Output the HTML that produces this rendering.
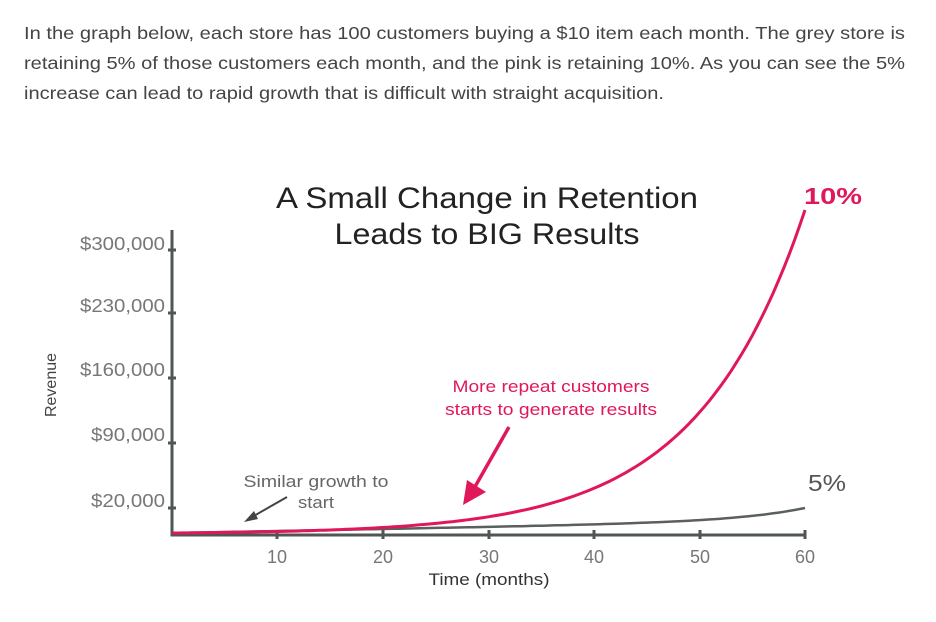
<!DOCTYPE html>
<html><head><meta charset="utf-8">
<style>html,body{margin:0;padding:0;background:#fff}svg{display:block}</style></head>
<body>
<svg id="s" width="936" height="622" viewBox="0 0 936 622" xmlns="http://www.w3.org/2000/svg" font-family="Liberation Sans, sans-serif">
<g fill="#444" font-size="17.5">
<text x="24" y="39" textLength="881" lengthAdjust="spacingAndGlyphs">In the graph below, each store has 100 customers buying a $10 item each month. The grey store is</text>
<text x="24" y="69" textLength="881" lengthAdjust="spacingAndGlyphs">retaining 5% of those customers each month, and the pink is retaining 10%. As you can see the 5%</text>
<text x="24" y="99" textLength="640" lengthAdjust="spacingAndGlyphs">increase can lead to rapid growth that is difficult with straight acquisition.</text>
</g>
<g fill="#222" font-size="30" text-anchor="middle">
<text x="487" y="208" textLength="422" lengthAdjust="spacingAndGlyphs">A Small Change in Retention</text>
<text x="487" y="244" textLength="305" lengthAdjust="spacingAndGlyphs">Leads to BIG Results</text>
</g>
<g fill="#777" font-size="18" text-anchor="end">
<text x="165" y="250" textLength="85" lengthAdjust="spacingAndGlyphs">$300,000</text>
<text x="165" y="312" textLength="85" lengthAdjust="spacingAndGlyphs">$230,000</text>
<text x="165" y="376" textLength="85" lengthAdjust="spacingAndGlyphs">$160,000</text>
<text x="165" y="441" textLength="74" lengthAdjust="spacingAndGlyphs">$90,000</text>
<text x="165" y="507" textLength="74" lengthAdjust="spacingAndGlyphs">$20,000</text>
</g>
<text transform="translate(56,385) rotate(-90)" text-anchor="middle" font-size="16" fill="#444">Revenue</text>
<g stroke="#505555" stroke-width="3" fill="none">
<path d="M172 230 V535 H806"/>
<path d="M168 250h8M168 313h8M168 378h8M168 443h8M168 508h8"/>
<path d="M277 530v9M383 530v9M489 530v9M594 530v9M700 530v9M805 530v9"/>
</g>
<g fill="#777" font-size="18" text-anchor="middle">
<text x="277" y="563">10</text><text x="383" y="563">20</text><text x="489" y="563">30</text>
<text x="594" y="563">40</text><text x="700" y="563">50</text><text x="805" y="563">60</text>
</g>
<text x="489" y="585" text-anchor="middle" font-size="17" fill="#333" textLength="121" lengthAdjust="spacingAndGlyphs">Time (months)</text>
<path id="grey" stroke="#5a5f5f" stroke-width="2.5" fill="none"/>
<path id="red" stroke="#e0185a" stroke-width="3" fill="none"/>
<text x="833" y="204" text-anchor="middle" font-size="23" font-weight="bold" fill="#e0185a" textLength="58" lengthAdjust="spacingAndGlyphs">10%</text>
<text x="827" y="491" text-anchor="middle" font-size="23" fill="#555" textLength="38" lengthAdjust="spacingAndGlyphs">5%</text>
<g fill="#e0185a" font-size="17" text-anchor="middle">
<text x="551" y="392" textLength="197" lengthAdjust="spacingAndGlyphs">More repeat customers</text>
<text x="551" y="415" textLength="212" lengthAdjust="spacingAndGlyphs">starts to generate results</text>
</g>
<path d="M509 427 L472 492" stroke="#e0185a" stroke-width="3.5"/>
<path d="M463 505 L467 480 L486 492 Z" fill="#e0185a"/>
<g fill="#666" font-size="16.5" text-anchor="middle">
<text x="316" y="487" textLength="145" lengthAdjust="spacingAndGlyphs">Similar growth to</text>
<text x="316" y="508" textLength="36" lengthAdjust="spacingAndGlyphs">start</text>
</g>
<path d="M287 497 L252 517" stroke="#444" stroke-width="2"/>
<path d="M244 522 L254 511 L258 519 Z" fill="#444"/>
</svg>
<script>
(function(){
var r="",g="";
for(var t=0;t<=60;t+=0.5){
var x=172+t*10.55;
var yr=533-(Math.exp(0.098*t)-1)*323/(Math.exp(0.098*60)-1);
var yg=533-(0.2*t+(Math.exp(0.15*t)-1)*13/8102);
r+=(t?"L":"M")+x.toFixed(1)+" "+yr.toFixed(1);
g+=(t?"L":"M")+x.toFixed(1)+" "+yg.toFixed(1);
}
document.getElementById("red").setAttribute("d",r);
document.getElementById("grey").setAttribute("d",g);
})();
</script>
</body></html>
